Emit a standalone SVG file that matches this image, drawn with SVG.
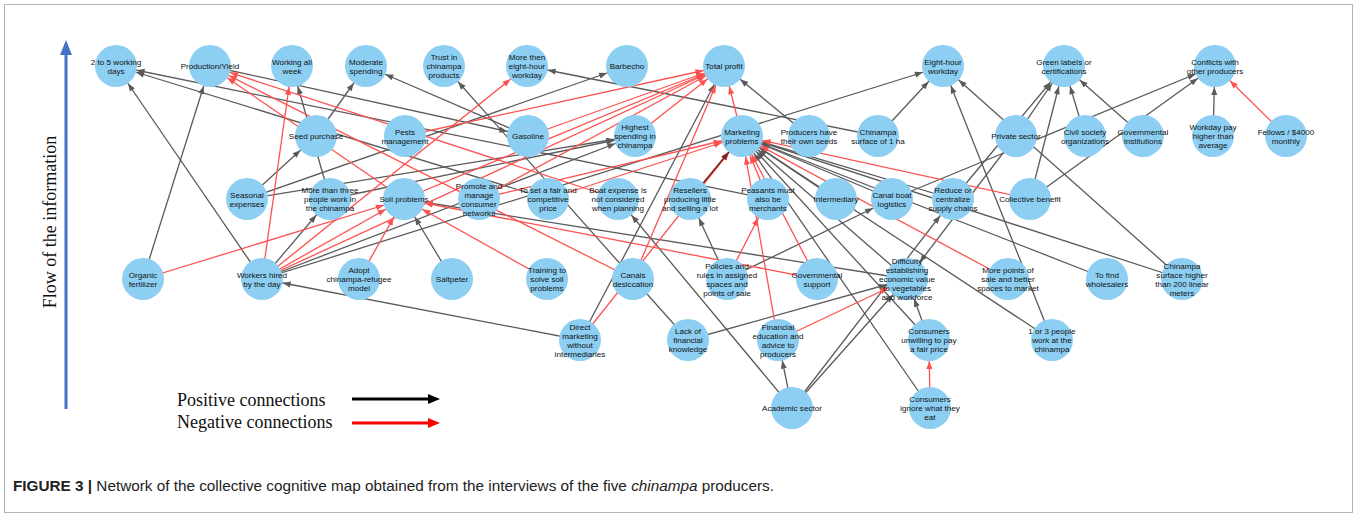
<svg xmlns="http://www.w3.org/2000/svg" width="1357" height="517" viewBox="0 0 1357 517">
<style>
.nd circle{fill:#8dcff2}
.nd text{font-family:"Liberation Sans",Arial,sans-serif;font-size:8.1px;fill:#111;text-anchor:middle}
.g{stroke:#5a5a5a;stroke-width:1.3;fill:none;marker-end:url(#ag)}
.r{stroke:#ff5050;stroke-width:1.3;fill:none;marker-end:url(#ar)}
.d{stroke:#7a2020;stroke-width:1.5;fill:none;marker-end:url(#ad)}
.lg{font-family:"Liberation Serif","Times New Roman",serif;font-size:18px;fill:#111}
</style>
<defs>
<marker id="ag" markerUnits="userSpaceOnUse" markerWidth="10" markerHeight="6" refX="29" refY="3" orient="auto" overflow="visible"><path d="M0,0 L8,3 L0,6 z" fill="#5a5a5a"/></marker>
<marker id="ar" markerUnits="userSpaceOnUse" markerWidth="10" markerHeight="6" refX="29" refY="3" orient="auto" overflow="visible"><path d="M0,0 L8,3 L0,6 z" fill="#ff5050"/></marker>
<marker id="ad" markerUnits="userSpaceOnUse" markerWidth="10" markerHeight="6" refX="29" refY="3" orient="auto" overflow="visible"><path d="M0,0 L8,3 L0,6 z" fill="#7a2020"/></marker>
<marker id="lk" markerUnits="userSpaceOnUse" markerWidth="12" markerHeight="10" refX="2" refY="5" orient="auto" overflow="visible"><path d="M0,0 L12,5 L0,10 z" fill="#000"/></marker>
<marker id="lr" markerUnits="userSpaceOnUse" markerWidth="12" markerHeight="10" refX="2" refY="5" orient="auto" overflow="visible"><path d="M0,0 L12,5 L0,10 z" fill="#ff0000"/></marker>
</defs>
<rect x="4.5" y="4.5" width="1348" height="508" fill="#fff" stroke="#b5b5b5" stroke-width="1"/>

<g id="axis">
<line x1="66" y1="52" x2="66" y2="409" stroke="#4472c4" stroke-width="3"/>
<polygon points="66,40 60,55 72,55" fill="#4472c4"/>
<text class="lg" transform="translate(56,222) rotate(-90)" text-anchor="middle">Flow of the information</text>
</g>

<g id="connectors">
<line class="g" x1="262" y1="279" x2="116" y2="66"/>
<line class="g" x1="768" y1="199" x2="116" y2="66"/>
<line class="g" x1="548" y1="199" x2="116" y2="66"/>
<line class="g" x1="143" y1="279" x2="210" y2="66"/>
<line class="g" x1="330" y1="199" x2="292" y2="66"/>
<line class="g" x1="316" y1="136" x2="366" y2="66"/>
<line class="g" x1="528" y1="136" x2="366" y2="66"/>
<line class="g" x1="688" y1="340" x2="444" y2="66"/>
<line class="g" x1="878" y1="136" x2="527" y2="66"/>
<line class="g" x1="247" y1="199" x2="627" y2="66"/>
<line class="g" x1="247" y1="199" x2="316" y2="136"/>
<line class="g" x1="247" y1="199" x2="635" y2="136"/>
<line class="g" x1="330" y1="199" x2="635" y2="136"/>
<line class="g" x1="262" y1="279" x2="635" y2="136"/>
<line class="g" x1="262" y1="279" x2="943" y2="66"/>
<line class="g" x1="262" y1="279" x2="330" y2="199"/>
<line class="g" x1="809" y1="136" x2="724" y2="66"/>
<line class="g" x1="580" y1="340" x2="724" y2="66"/>
<line class="g" x1="580" y1="340" x2="262" y2="279"/>
<line class="g" x1="878" y1="136" x2="943" y2="66"/>
<line class="g" x1="1052" y1="340" x2="943" y2="66"/>
<line class="g" x1="1182" y1="279" x2="943" y2="66"/>
<line class="g" x1="1016" y1="136" x2="1064" y2="66"/>
<line class="g" x1="1085" y1="136" x2="1064" y2="66"/>
<line class="g" x1="1143" y1="136" x2="1064" y2="66"/>
<line class="g" x1="1030" y1="199" x2="1064" y2="66"/>
<line class="g" x1="953" y1="199" x2="1064" y2="66"/>
<line class="g" x1="1030" y1="199" x2="1215" y2="66"/>
<line class="g" x1="892" y1="199" x2="1215" y2="66"/>
<line class="g" x1="1213" y1="136" x2="1215" y2="66"/>
<line class="g" x1="452" y1="279" x2="404" y2="199"/>
<line class="g" x1="727" y1="279" x2="690" y2="199"/>
<line class="g" x1="727" y1="279" x2="892" y2="199"/>
<line class="g" x1="792" y1="408" x2="778" y2="340"/>
<line class="g" x1="792" y1="408" x2="907" y2="279"/>
<line class="g" x1="792" y1="408" x2="618" y2="199"/>
<line class="g" x1="792" y1="408" x2="953" y2="199"/>
<line class="g" x1="688" y1="340" x2="907" y2="279"/>
<line class="g" x1="929" y1="340" x2="907" y2="279"/>
<line class="g" x1="930" y1="408" x2="742" y2="136"/>
<line class="g" x1="836" y1="199" x2="742" y2="136"/>
<line class="g" x1="892" y1="199" x2="742" y2="136"/>
<line class="g" x1="953" y1="199" x2="742" y2="136"/>
<line class="g" x1="1107" y1="279" x2="742" y2="136"/>
<line class="g" x1="1182" y1="279" x2="742" y2="136"/>
<line class="g" x1="907" y1="279" x2="742" y2="136"/>
<line class="g" x1="929" y1="340" x2="742" y2="136"/>
<line class="g" x1="1052" y1="340" x2="742" y2="136"/>
<line class="g" x1="907" y1="279" x2="404" y2="199"/>
<line class="g" x1="1016" y1="136" x2="907" y2="279"/>
<line class="g" x1="210" y1="66" x2="528" y2="136"/>

<line class="r" x1="262" y1="279" x2="292" y2="66"/>
<line class="r" x1="262" y1="279" x2="527" y2="66"/>
<line class="r" x1="262" y1="279" x2="724" y2="66"/>
<line class="r" x1="404" y1="199" x2="210" y2="66"/>
<line class="r" x1="633" y1="279" x2="210" y2="66"/>
<line class="r" x1="618" y1="199" x2="210" y2="66"/>
<line class="r" x1="405" y1="136" x2="724" y2="66"/>
<line class="r" x1="528" y1="136" x2="724" y2="66"/>
<line class="r" x1="635" y1="136" x2="724" y2="66"/>
<line class="r" x1="404" y1="199" x2="724" y2="66"/>
<line class="r" x1="742" y1="136" x2="724" y2="66"/>
<line class="r" x1="633" y1="279" x2="724" y2="66"/>
<line class="r" x1="479" y1="199" x2="724" y2="66"/>
<line class="r" x1="580" y1="340" x2="742" y2="136"/>
<line class="r" x1="479" y1="199" x2="742" y2="136"/>
<line class="r" x1="548" y1="199" x2="742" y2="136"/>
<line class="r" x1="143" y1="279" x2="404" y2="199"/>
<line class="r" x1="359" y1="279" x2="404" y2="199"/>
<line class="r" x1="547" y1="279" x2="404" y2="199"/>
<line class="r" x1="817" y1="279" x2="404" y2="199"/>
<line class="r" x1="262" y1="279" x2="404" y2="199"/>
<line class="r" x1="727" y1="279" x2="768" y2="199"/>
<line class="r" x1="778" y1="340" x2="907" y2="279"/>
<line class="r" x1="930" y1="408" x2="929" y2="340"/>
<line class="r" x1="1286" y1="136" x2="1215" y2="66"/>
<line class="r" x1="1030" y1="199" x2="742" y2="136"/>
<line class="r" x1="1008" y1="279" x2="742" y2="136"/>
<line class="r" x1="768" y1="199" x2="742" y2="136"/>
<line class="r" x1="817" y1="279" x2="742" y2="136"/>
<line class="r" x1="778" y1="340" x2="742" y2="136"/>
<line class="d" x1="690" y1="199" x2="742" y2="136"/>
</g>

<g id="n1" class="nd"><circle cx="116" cy="66" r="21"/><text><tspan x="116" y="64.5">2 to 5 working</tspan><tspan x="116" y="73.5">days</tspan></text></g>
<g id="n2" class="nd"><circle cx="210" cy="66" r="21"/><text x="210" y="69">Production/Yield</text></g>
<g id="n3" class="nd"><circle cx="292" cy="66" r="21"/><text><tspan x="292" y="64.5">Working all</tspan><tspan x="292" y="73.5">week</tspan></text></g>
<g id="n4" class="nd"><circle cx="366" cy="66" r="21"/><text><tspan x="366" y="64.5">Moderate</tspan><tspan x="366" y="73.5">spending</tspan></text></g>
<g id="n5" class="nd"><circle cx="444" cy="66" r="21"/><text><tspan x="444" y="60">Trust in</tspan><tspan x="444" y="69">chinampa</tspan><tspan x="444" y="78">products</tspan></text></g>
<g id="n6" class="nd"><circle cx="527" cy="66" r="21"/><text><tspan x="527" y="60">More then</tspan><tspan x="527" y="69">eight-hour</tspan><tspan x="527" y="78">workday</tspan></text></g>
<g id="n7" class="nd"><circle cx="627" cy="66" r="21"/><text x="627" y="69">Barbecho</text></g>
<g id="n8" class="nd"><circle cx="724" cy="66" r="21"/><text x="724" y="69">Total profit</text></g>
<g id="n9" class="nd"><circle cx="943" cy="66" r="21"/><text><tspan x="943" y="64.5">Eight-hour</tspan><tspan x="943" y="73.5">workday</tspan></text></g>
<g id="n10" class="nd"><circle cx="1064" cy="66" r="21"/><text><tspan x="1064" y="64.5">Green labels or</tspan><tspan x="1064" y="73.5">certifications</tspan></text></g>
<g id="n11" class="nd"><circle cx="1215" cy="66" r="21"/><text><tspan x="1215" y="64.5">Conflicts with</tspan><tspan x="1215" y="73.5">other producers</tspan></text></g>

<g id="n12" class="nd"><circle cx="316" cy="136" r="21"/><text x="316" y="139">Seed purchase</text></g>
<g id="n13" class="nd"><circle cx="405" cy="136" r="21"/><text><tspan x="405" y="134.5">Pests</tspan><tspan x="405" y="143.5">management</tspan></text></g>
<g id="n14" class="nd"><circle cx="528" cy="136" r="21"/><text x="528" y="139">Gasoline</text></g>
<g id="n15" class="nd"><circle cx="635" cy="136" r="21"/><text><tspan x="635" y="130">Highest</tspan><tspan x="635" y="139">spending in</tspan><tspan x="635" y="148">chinampa</tspan></text></g>
<g id="n16" class="nd"><circle cx="742" cy="136" r="21"/><text><tspan x="742" y="134.5">Marketing</tspan><tspan x="742" y="143.5">problems</tspan></text></g>
<g id="n17" class="nd"><circle cx="809" cy="136" r="21"/><text><tspan x="809" y="134.5">Producers have</tspan><tspan x="809" y="143.5">their own seeds</tspan></text></g>
<g id="n18" class="nd"><circle cx="878" cy="136" r="21"/><text><tspan x="878" y="134.5">Chinampa</tspan><tspan x="878" y="143.5">surface of 1 ha</tspan></text></g>
<g id="n19" class="nd"><circle cx="1016" cy="136" r="21"/><text x="1016" y="139">Private sector</text></g>
<g id="n20" class="nd"><circle cx="1085" cy="136" r="21"/><text><tspan x="1085" y="134.5">Civil society</tspan><tspan x="1085" y="143.5">organizations</tspan></text></g>
<g id="n21" class="nd"><circle cx="1143" cy="136" r="21"/><text><tspan x="1143" y="134.5">Governmental</tspan><tspan x="1143" y="143.5">institutions</tspan></text></g>
<g id="n22" class="nd"><circle cx="1213" cy="136" r="21"/><text><tspan x="1213" y="130">Workday pay</tspan><tspan x="1213" y="139">higher than</tspan><tspan x="1213" y="148">average</tspan></text></g>
<g id="n23" class="nd"><circle cx="1286" cy="136" r="21"/><text><tspan x="1286" y="134.5">Fellows / $4000</tspan><tspan x="1286" y="143.5">monthly</tspan></text></g>

<g id="n24" class="nd"><circle cx="247" cy="199" r="21"/><text><tspan x="247" y="197.5">Seasonal</tspan><tspan x="247" y="206.5">expenses</tspan></text></g>
<g id="n25" class="nd"><circle cx="330" cy="199" r="21"/><text><tspan x="330" y="193">More than three</tspan><tspan x="330" y="202">people work in</tspan><tspan x="330" y="211">the chinampa</tspan></text></g>
<g id="n26" class="nd"><circle cx="404" cy="199" r="21"/><text x="404" y="202">Soil problems</text></g>
<g id="n27" class="nd"><circle cx="479" cy="199" r="21"/><text><tspan x="479" y="188.5">Promote and</tspan><tspan x="479" y="197.5">manage</tspan><tspan x="479" y="206.5">consumer</tspan><tspan x="479" y="215.5">networks</tspan></text></g>
<g id="n28" class="nd"><circle cx="548" cy="199" r="21"/><text><tspan x="548" y="193">To set a fair and</tspan><tspan x="548" y="202">competitive</tspan><tspan x="548" y="211">price</tspan></text></g>
<g id="n29" class="nd"><circle cx="618" cy="199" r="21"/><text><tspan x="618" y="193">Boat expense is</tspan><tspan x="618" y="202">not considered</tspan><tspan x="618" y="211">when planning</tspan></text></g>
<g id="n30" class="nd"><circle cx="690" cy="199" r="21"/><text><tspan x="690" y="193">Resellers</tspan><tspan x="690" y="202">producing little</tspan><tspan x="690" y="211">and selling a lot</tspan></text></g>
<g id="n31" class="nd"><circle cx="768" cy="199" r="21"/><text><tspan x="768" y="193">Peasants must</tspan><tspan x="768" y="202">also be</tspan><tspan x="768" y="211">merchants</tspan></text></g>
<g id="n32" class="nd"><circle cx="836" cy="199" r="21"/><text x="836" y="202">Intermediary</text></g>
<g id="n33" class="nd"><circle cx="892" cy="199" r="21"/><text><tspan x="892" y="197.5">Canal boat</tspan><tspan x="892" y="206.5">logistics</tspan></text></g>
<g id="n34" class="nd"><circle cx="953" cy="199" r="21"/><text><tspan x="953" y="193">Reduce or</tspan><tspan x="953" y="202">centralize</tspan><tspan x="953" y="211">supply chains</tspan></text></g>
<g id="n35" class="nd"><circle cx="1030" cy="199" r="21"/><text x="1030" y="202">Collective benefit</text></g>

<g id="n36" class="nd"><circle cx="143" cy="279" r="21"/><text><tspan x="143" y="277.5">Organic</tspan><tspan x="143" y="286.5">fertilizer</tspan></text></g>
<g id="n37" class="nd"><circle cx="262" cy="279" r="21"/><text><tspan x="262" y="277.5">Workers hired</tspan><tspan x="262" y="286.5">by the day</tspan></text></g>
<g id="n38" class="nd"><circle cx="359" cy="279" r="21"/><text><tspan x="359" y="273">Adopt</tspan><tspan x="359" y="282">chinampa-refugee</tspan><tspan x="359" y="291">model</tspan></text></g>
<g id="n39" class="nd"><circle cx="452" cy="279" r="21"/><text x="452" y="282">Saltpeter</text></g>
<g id="n40" class="nd"><circle cx="547" cy="279" r="21"/><text><tspan x="547" y="273">Training to</tspan><tspan x="547" y="282">solve soil</tspan><tspan x="547" y="291">problems</tspan></text></g>
<g id="n41" class="nd"><circle cx="633" cy="279" r="21"/><text><tspan x="633" y="277.5">Canals</tspan><tspan x="633" y="286.5">desiccation</tspan></text></g>
<g id="n42" class="nd"><circle cx="727" cy="279" r="21"/><text><tspan x="727" y="268.5">Policies and</tspan><tspan x="727" y="277.5">rules in assigned</tspan><tspan x="727" y="286.5">spaces and</tspan><tspan x="727" y="295.5">points of sale</tspan></text></g>
<g id="n43" class="nd"><circle cx="817" cy="279" r="21"/><text><tspan x="817" y="277.5">Governmental</tspan><tspan x="817" y="286.5">support</tspan></text></g>
<g id="n44" class="nd"><circle cx="907" cy="279" r="21"/><text><tspan x="907" y="264">Difficulty</tspan><tspan x="907" y="273">establishing</tspan><tspan x="907" y="282">economic value</tspan><tspan x="907" y="291">to vegetables</tspan><tspan x="907" y="300">and workforce</tspan></text></g>
<g id="n45" class="nd"><circle cx="1008" cy="279" r="21"/><text><tspan x="1008" y="273">More points of</tspan><tspan x="1008" y="282">sale and better</tspan><tspan x="1008" y="291">spaces to market</tspan></text></g>
<g id="n46" class="nd"><circle cx="1107" cy="279" r="21"/><text><tspan x="1107" y="277.5">To find</tspan><tspan x="1107" y="286.5">wholesalers</tspan></text></g>
<g id="n47" class="nd"><circle cx="1182" cy="279" r="21"/><text><tspan x="1182" y="268.5">Chinampa</tspan><tspan x="1182" y="277.5">surface higher</tspan><tspan x="1182" y="286.5">than 200 linear</tspan><tspan x="1182" y="295.5">meters</tspan></text></g>

<g id="n48" class="nd"><circle cx="580" cy="340" r="21"/><text><tspan x="580" y="329.5">Direct</tspan><tspan x="580" y="338.5">marketing</tspan><tspan x="580" y="347.5">without</tspan><tspan x="580" y="356.5">intermediaries</tspan></text></g>
<g id="n49" class="nd"><circle cx="688" cy="340" r="21"/><text><tspan x="688" y="334">Lack of</tspan><tspan x="688" y="343">financial</tspan><tspan x="688" y="352">knowledge</tspan></text></g>
<g id="n50" class="nd"><circle cx="778" cy="340" r="21"/><text><tspan x="778" y="329.5">Financial</tspan><tspan x="778" y="338.5">education and</tspan><tspan x="778" y="347.5">advice to</tspan><tspan x="778" y="356.5">producers</tspan></text></g>
<g id="n51" class="nd"><circle cx="929" cy="340" r="21"/><text><tspan x="929" y="334">Consumers</tspan><tspan x="929" y="343">unwilling to pay</tspan><tspan x="929" y="352">a fair price</tspan></text></g>
<g id="n52" class="nd"><circle cx="1052" cy="340" r="21"/><text><tspan x="1052" y="334">1 or 3 people</tspan><tspan x="1052" y="343">work at the</tspan><tspan x="1052" y="352">chinampa</tspan></text></g>
<g id="n53" class="nd"><circle cx="792" cy="408" r="21"/><text x="792" y="411">Academic sector</text></g>
<g id="n54" class="nd"><circle cx="930" cy="408" r="21"/><text><tspan x="930" y="402">Consumers</tspan><tspan x="930" y="411">ignore what they</tspan><tspan x="930" y="420">eat</tspan></text></g>

<g id="legend">
<text class="lg" x="177" y="406">Positive connections</text>
<text class="lg" x="177" y="428">Negative connections</text>
<line x1="352" y1="399" x2="430" y2="399" stroke="#000" stroke-width="3" marker-end="url(#lk)"/>
<line x1="352" y1="423" x2="430" y2="423" stroke="#ff0000" stroke-width="3" marker-end="url(#lr)"/>
</g>

<text x="13" y="491" font-family="Liberation Sans,Arial,sans-serif" font-size="15.3" fill="#222"><tspan font-weight="bold">FIGURE 3 |</tspan> Network of the collective cognitive map obtained from the interviews of the five <tspan font-style="italic">chinampa</tspan> producers.</text>
</svg>
